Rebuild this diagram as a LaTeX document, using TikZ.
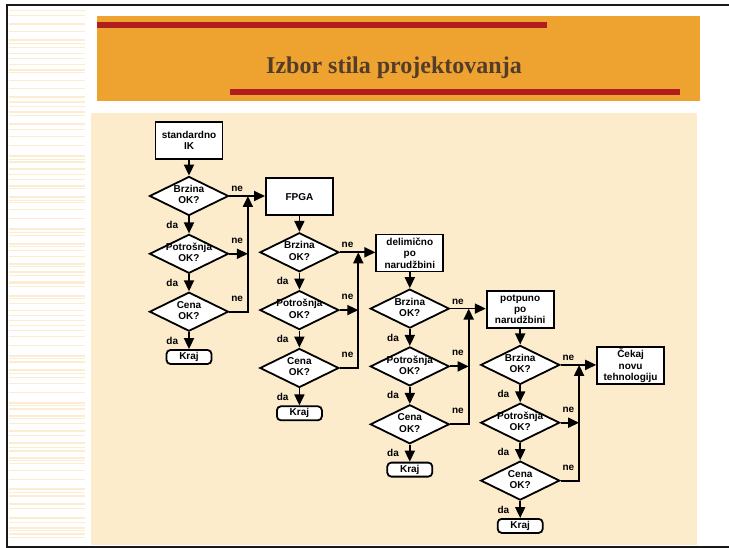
\documentclass[tikz,border=0pt]{standalone}
\usepackage{fontspec}
\setsansfont{Liberation Sans}
\newfontfamily\titlefont{Liberation Serif}
\usetikzlibrary{shapes.geometric, positioning, arrows.meta, calc}

\definecolor{slideorange}{RGB}{238,162,47}
\definecolor{slidered}{RGB}{176,30,30}
\definecolor{slidebeige}{RGB}{252,236,204}
\definecolor{stripe}{RGB}{252,237,208}
\definecolor{titlebrown}{RGB}{82,60,42}

\tikzset{
  flowtext/.style={font=\sffamily\bfseries\fontsize{10}{11.3}\selectfont},
  procbox/.style={flowtext, draw, fill=white, line width=1.8pt, minimum width=67pt, minimum height=37pt, inner sep=1pt, align=center},
  decision/.style={flowtext, draw, fill=white, diamond, aspect=2, line width=1.8pt, minimum width=79pt, minimum height=39pt, inner sep=0pt},
  endbox/.style={flowtext, draw, fill=white, rounded corners=4pt, line width=1.8pt, minimum width=45pt, minimum height=14pt, inner sep=0pt},
  answer/.style={flowtext, inner sep=1pt},
  arr/.style={line width=1.8pt, -{Triangle[length=11pt,width=10pt]}},
}
\newcommand{\qtext}[1]{\makebox[0pt]{\begin{tabular}{@{}c@{}}#1\\OK?\end{tabular}}}

\begin{document}
\begin{tikzpicture}[x=1pt, y=-1pt]
    \useasboundingbox (0,0) rectangle (729,548);

    % Slide frame
    \draw[line width=2pt, black!90] (729,5) -- (7,5) -- (7,547) -- (729,547);

    % Left stripes
    \foreach \y/\w in {10/1, 15/1, 23/2, 31/1, 39/2, 43/1, 47/1.5, 53/1, 58/1, 64/1.5, 69/2, 72/1, 80/1, 88/1, 96/2,
        101.5/1.5, 106.5/1, 111.5/2, 115/1, 123/2, 129/1, 136/1, 145/1, 155/2, 159/1, 161.5/1.5, 168/2, 174/1, 179/1.5,
        185/2, 188/1, 196.5/2, 200/1, 202.5/1, 209/1, 218/1, 228/2, 232.5/1, 235/1.5, 243/2, 246.5/1, 250/1.5, 256.5/1,
        263/2, 266.5/1, 271.5/1.5, 275/1, 281.5/2, 283.5/1, 286.5/1, 295/2, 298/1, 303/1, 310/1.5, 315/1, 320/1, 325/1.5,
        330/1, 336.5/1, 345/1, 355/2, 358/1, 361.5/1.5, 369/2, 373/1, 376.5/1, 382.5/1, 391.5/1, 401.5/2, 405/1, 408/1.5,
        415/2, 418/1, 423/1, 430/1.5, 435/1, 441.5/2, 446.5/1, 450/1.5, 456.5/2, 460/1, 463/1, 470/1, 479/1, 488/2,
        491.5/1, 495/1.5, 503/2, 508/1, 516.5/2, 521.5/1, 526.5/2, 530/1, 533/2, 536.5/1}
        \fill[stripe] (9,\y) rectangle (85,\y+\w);

    % Title bar
    \fill[slidebeige] (91,113) rectangle (697,545);
    \fill[slideorange] (97,16) rectangle (700,101);
    \fill[slidered] (97,22.5) rectangle (547,28.5);
    \fill[slidered] (230,89) rectangle (680,95);
    \node[font=\titlefont\bfseries\fontsize{24}{28}\selectfont, text=titlebrown, anchor=base] (title) at (394,74) {Izbor stila projektovanja};

    % Columns: start box, three tests, end
    \foreach \i/\top in {1/{standardno\\IK}, 2/FPGA, 3/{delimično\\po\\narudžbini}, 4/{potpuno\\po\\narudžbini}} {
        \pgfmathsetmacro{\cx}{189+110.4*(\i-1)}
        \pgfmathsetmacro{\cy}{196+56.3*(\i-1)}
        \node[procbox] (t\i) at (\cx,\cy-55.5) {\top};
        \node[decision] (b\i) at (\cx,\cy) {\qtext{Brzina}};
        \node[decision] (p\i) at (\cx,\cy+57.8) {\qtext{Potrošnja}};
        \node[decision] (c\i) at (\cx,\cy+115.7) {\qtext{Cena}};
        \node[endbox] (k\i) at (\cx,\cy+161) {Kraj};
        \coordinate (j\i) at ($(b\i.east)+(18.5,0)$);
    }
    \node[procbox] (t5) at (630.6,365.7) {Čekaj\\novu\\tehnologiju};

    % Connectors
    \foreach \i [count=\n from 2] in {1,...,4} {
        \draw[arr] (t\i) -- (b\i);
        \draw[arr] (b\i) -- node[answer, left=9pt] (db\i) {da} (p\i);
        \draw[arr] (p\i) -- node[answer, left=9pt] (dp\i) {da} (c\i);
        \draw[arr] (c\i) -- node[answer, left=9pt] (dc\i) {da} (k\i);
        \draw[arr] (b\i.east) -- node[answer, pos=0, anchor=south west, yshift=2.5pt] (nb\i) {ne} (b\i.east -| t\n.west);
        \draw[arr] (p\i.east) -- node[answer, pos=0, anchor=south west, yshift=8.5pt] (np\i) {ne} (p\i.east -| j\i);
        \draw[arr] (c\i.east) -| node[answer, pos=0, anchor=south west, yshift=8.5pt] (nc\i) {ne} (j\i);
    }
\end{tikzpicture}
\end{document}
